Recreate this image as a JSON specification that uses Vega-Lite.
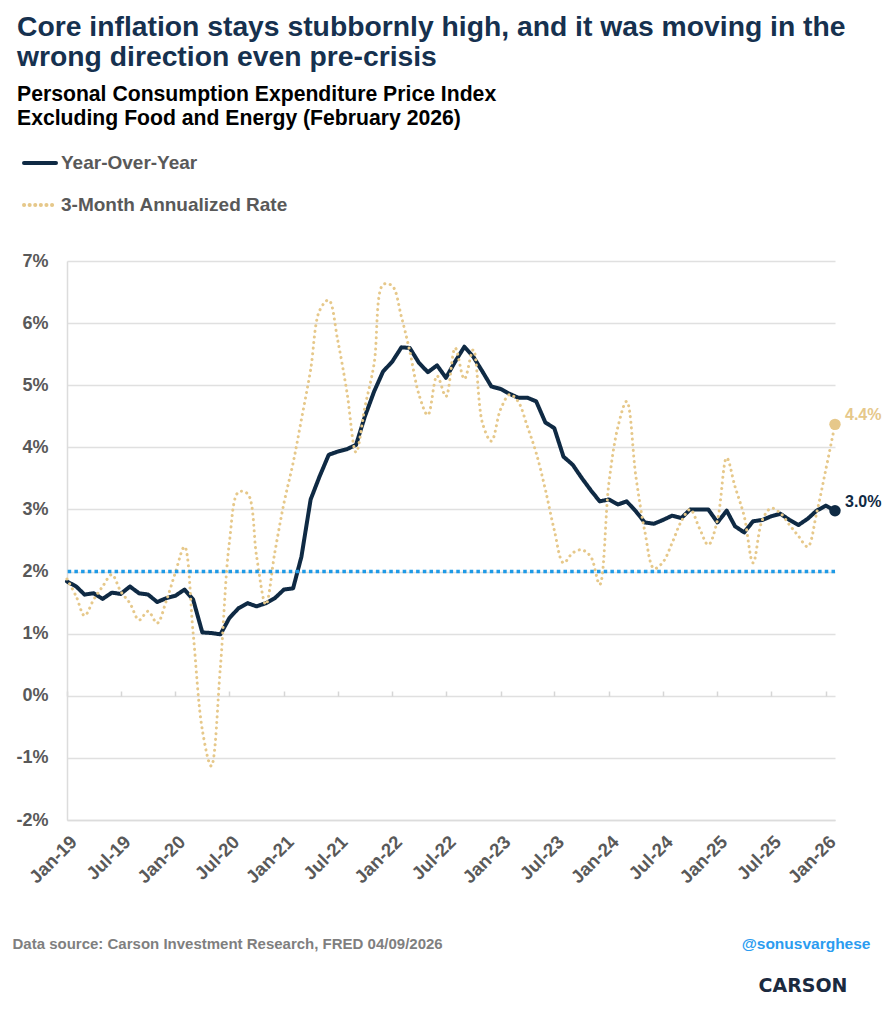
{
  "$schema": "https://vega.github.io/schema/vega-lite/v6.json",
  "width": 768,
  "height": 559,
  "autosize": "none",
  "padding": {"left": 67, "top": 261, "right": 61, "bottom": 204},
  "background": "white",
  "config": {"font": "Liberation Sans", "view": {"stroke": null}},
  "title": {
    "text": ["Core inflation stays stubbornly high, and it was moving in the", "wrong direction even pre-crisis"],
    "subtitle": ["Personal Consumption Expenditure Price Index", "Excluding Food and Energy (February 2026)"],
    "anchor": "start",
    "frame": "group",
    "dx": -50,
    "offset": 15,
    "font": "Liberation Sans",
    "fontSize": 28.3,
    "fontWeight": "bold",
    "color": "#16314f",
    "lineHeight": 30,
    "subtitleFont": "Liberation Sans",
    "subtitleFontSize": 21.2,
    "subtitleFontWeight": "bold",
    "subtitleColor": "#000000",
    "subtitleLineHeight": 24,
    "subtitlePadding": 12
  },
  "data": {
    "values": [
      {"date": "2019-01", "yoy": 1.84, "ann3m": 1.88},
      {"date": "2019-02", "yoy": 1.76, "ann3m": 1.60},
      {"date": "2019-03", "yoy": 1.63, "ann3m": 1.29},
      {"date": "2019-04", "yoy": 1.65, "ann3m": 1.55},
      {"date": "2019-05", "yoy": 1.56, "ann3m": 1.76},
      {"date": "2019-06", "yoy": 1.66, "ann3m": 1.95},
      {"date": "2019-07", "yoy": 1.64, "ann3m": 1.68},
      {"date": "2019-08", "yoy": 1.76, "ann3m": 1.49},
      {"date": "2019-09", "yoy": 1.65, "ann3m": 1.22},
      {"date": "2019-10", "yoy": 1.63, "ann3m": 1.36},
      {"date": "2019-11", "yoy": 1.51, "ann3m": 1.17},
      {"date": "2019-12", "yoy": 1.57, "ann3m": 1.52},
      {"date": "2020-01", "yoy": 1.61, "ann3m": 1.98},
      {"date": "2020-02", "yoy": 1.71, "ann3m": 2.40},
      {"date": "2020-03", "yoy": 1.55, "ann3m": 1.01},
      {"date": "2020-04", "yoy": 1.02, "ann3m": -0.55},
      {"date": "2020-05", "yoy": 1.01, "ann3m": -1.13},
      {"date": "2020-06", "yoy": 0.99, "ann3m": 0.47},
      {"date": "2020-07", "yoy": 1.25, "ann3m": 2.46},
      {"date": "2020-08", "yoy": 1.41, "ann3m": 3.28},
      {"date": "2020-09", "yoy": 1.49, "ann3m": 3.25},
      {"date": "2020-10", "yoy": 1.44, "ann3m": 2.24},
      {"date": "2020-11", "yoy": 1.49, "ann3m": 1.47},
      {"date": "2020-12", "yoy": 1.57, "ann3m": 2.30},
      {"date": "2021-01", "yoy": 1.71, "ann3m": 3.10},
      {"date": "2021-02", "yoy": 1.73, "ann3m": 3.75},
      {"date": "2021-03", "yoy": 2.24, "ann3m": 4.45},
      {"date": "2021-04", "yoy": 3.16, "ann3m": 5.25},
      {"date": "2021-05", "yoy": 3.53, "ann3m": 6.20},
      {"date": "2021-06", "yoy": 3.88, "ann3m": 6.37},
      {"date": "2021-07", "yoy": 3.93, "ann3m": 5.73},
      {"date": "2021-08", "yoy": 3.97, "ann3m": 4.90},
      {"date": "2021-09", "yoy": 4.04, "ann3m": 3.92},
      {"date": "2021-10", "yoy": 4.50, "ann3m": 4.65},
      {"date": "2021-11", "yoy": 4.90, "ann3m": 5.35},
      {"date": "2021-12", "yoy": 5.22, "ann3m": 6.62},
      {"date": "2022-01", "yoy": 5.38, "ann3m": 6.60},
      {"date": "2022-02", "yoy": 5.61, "ann3m": 6.10},
      {"date": "2022-03", "yoy": 5.60, "ann3m": 5.55},
      {"date": "2022-04", "yoy": 5.36, "ann3m": 4.85},
      {"date": "2022-05", "yoy": 5.21, "ann3m": 4.52},
      {"date": "2022-06", "yoy": 5.32, "ann3m": 5.15},
      {"date": "2022-07", "yoy": 5.12, "ann3m": 4.82},
      {"date": "2022-08", "yoy": 5.38, "ann3m": 5.60},
      {"date": "2022-09", "yoy": 5.62, "ann3m": 5.10},
      {"date": "2022-10", "yoy": 5.46, "ann3m": 5.57},
      {"date": "2022-11", "yoy": 5.22, "ann3m": 4.39},
      {"date": "2022-12", "yoy": 4.98, "ann3m": 4.10},
      {"date": "2023-01", "yoy": 4.94, "ann3m": 4.61},
      {"date": "2023-02", "yoy": 4.86, "ann3m": 4.85},
      {"date": "2023-03", "yoy": 4.80, "ann3m": 4.74},
      {"date": "2023-04", "yoy": 4.80, "ann3m": 4.34},
      {"date": "2023-05", "yoy": 4.74, "ann3m": 3.91},
      {"date": "2023-06", "yoy": 4.40, "ann3m": 3.32},
      {"date": "2023-07", "yoy": 4.31, "ann3m": 2.67},
      {"date": "2023-08", "yoy": 3.85, "ann3m": 2.14},
      {"date": "2023-09", "yoy": 3.72, "ann3m": 2.30},
      {"date": "2023-10", "yoy": 3.51, "ann3m": 2.35},
      {"date": "2023-11", "yoy": 3.31, "ann3m": 2.24},
      {"date": "2023-12", "yoy": 3.13, "ann3m": 1.79},
      {"date": "2024-01", "yoy": 3.16, "ann3m": 3.42},
      {"date": "2024-02", "yoy": 3.08, "ann3m": 4.34},
      {"date": "2024-03", "yoy": 3.13, "ann3m": 4.74},
      {"date": "2024-04", "yoy": 2.97, "ann3m": 3.53},
      {"date": "2024-05", "yoy": 2.79, "ann3m": 2.65},
      {"date": "2024-06", "yoy": 2.77, "ann3m": 2.05},
      {"date": "2024-07", "yoy": 2.83, "ann3m": 2.15},
      {"date": "2024-08", "yoy": 2.90, "ann3m": 2.46},
      {"date": "2024-09", "yoy": 2.86, "ann3m": 2.81},
      {"date": "2024-10", "yoy": 3.00, "ann3m": 3.00},
      {"date": "2024-11", "yoy": 3.00, "ann3m": 2.70},
      {"date": "2024-12", "yoy": 3.00, "ann3m": 2.43},
      {"date": "2025-01", "yoy": 2.79, "ann3m": 2.83},
      {"date": "2025-02", "yoy": 2.98, "ann3m": 3.83},
      {"date": "2025-03", "yoy": 2.73, "ann3m": 3.37},
      {"date": "2025-04", "yoy": 2.63, "ann3m": 2.89},
      {"date": "2025-05", "yoy": 2.81, "ann3m": 2.14},
      {"date": "2025-06", "yoy": 2.83, "ann3m": 2.83},
      {"date": "2025-07", "yoy": 2.89, "ann3m": 3.02},
      {"date": "2025-08", "yoy": 2.93, "ann3m": 2.94},
      {"date": "2025-09", "yoy": 2.83, "ann3m": 2.75},
      {"date": "2025-10", "yoy": 2.75, "ann3m": 2.57},
      {"date": "2025-11", "yoy": 2.85, "ann3m": 2.40},
      {"date": "2025-12", "yoy": 2.98, "ann3m": 2.94},
      {"date": "2026-01", "yoy": 3.06, "ann3m": 3.64},
      {"date": "2026-02", "yoy": 2.98, "ann3m": 4.37}
    ]
  },
  "transform": [{"fold": ["yoy", "ann3m"], "as": ["series", "rate"]}],
  "layer": [
    {
      "transform": [{"filter": "datum.series == 'yoy'"}],
      "mark": {"type": "line", "strokeWidth": 4, "strokeJoin": "round", "strokeCap": "round"},
      "encoding": {
        "x": {
          "field": "date", "timeUnit": "utcyearmonth", "type": "temporal",
          "scale": {"domain": [{"year": 2019, "month": 1, "date": 1, "utc": true}, {"year": 2026, "month": 2, "date": 1, "utc": true}], "nice": false},
          "axis": {
            "orient": "bottom",
            "format": "%b-%y",
            "tickCount": {"interval": "month", "step": 6},
            "labelAngle": -45,
            "labelAlign": "right",
            "labelBaseline": "top",
            "labelFontSize": 18.5,
            "labelFontWeight": "bold",
            "labelColor": "#595959",
            "labelPadding": 12,
            "labelFlush": false,
            "labelOverlap": false,
            "labelBound": false,
            "ticks": false,
            "grid": false,
            "domain": true,
            "domainColor": "#dcdcdc",
            "domainWidth": 1.5,
            "title": "Data source: Carson Investment Research, FRED  04/09/2026",
            "titleX": -55,
            "titleY": 123,
            "titleAlign": "left",
            "titleBaseline": "middle",
            "titleFontSize": 15,
            "titleFontWeight": "bold",
            "titleColor": "#7f7f7f"
          }
        },
        "y": {
          "field": "rate", "type": "quantitative",
          "scale": {"domain": [-2, 7], "nice": false, "zero": false},
          "axis": {
            "values": [-2, -1, 0, 1, 2, 3, 4, 5, 6, 7],
            "labelExpr": "datum.value + '%'",
            "labelFontSize": 18,
            "labelFontWeight": "bold",
            "labelColor": "#595959",
            "labelPadding": 19,
            "ticks": false,
            "domain": true,
            "domainColor": "#dcdcdc",
            "domainWidth": 1.5,
            "grid": true,
            "gridColor": "#e0e0e0",
            "gridWidth": 1.5,
            "title": "CARSON",
            "titleAngle": 0,
            "titleX": 691,
            "titleY": 724,
            "titleAlign": "left",
            "titleBaseline": "middle",
            "titleFont": "DejaVu Sans",
            "titleFontSize": 19,
            "titleFontWeight": "bold",
            "titleColor": "#1b2a3f"
          }
        },
        "color": {
          "field": "series", "type": "nominal",
          "scale": {"domain": ["yoy", "ann3m"], "range": ["#0f2a44", "#e6c88a"]},
          "legend": {
            "orient": "none",
            "legendX": -45,
            "legendY": -116,
            "direction": "vertical",
            "title": null,
            "symbolType": "stroke",
            "symbolSize": 1024,
            "symbolStrokeWidth": 4,
            "labelFontSize": 19,
            "labelFontWeight": "bold",
            "labelColor": "#595959",
            "labelOffset": 3,
            "labelLimit": 400,
            "rowPadding": 14,
            "labelExpr": "datum.label == 'yoy' ? 'Year-Over-Year' : '3-Month Annualized Rate'",
            "encode": {"symbols": {"update": {"strokeCap": {"value": "round"}}}}
          }
        },
        "strokeDash": {
          "field": "series", "type": "nominal",
          "scale": {"domain": ["yoy", "ann3m"], "range": [[1, 0], [0.1, 5.5]]},
          "legend": {
            "orient": "none",
            "legendX": -45,
            "legendY": -116,
            "direction": "vertical",
            "title": null,
            "symbolType": "stroke",
            "symbolSize": 1024,
            "symbolStrokeWidth": 4,
            "labelFontSize": 19,
            "labelFontWeight": "bold",
            "labelColor": "#595959",
            "labelOffset": 3,
            "labelLimit": 400,
            "rowPadding": 14,
            "labelExpr": "datum.label == 'yoy' ? 'Year-Over-Year' : '3-Month Annualized Rate'",
            "encode": {"symbols": {"update": {"strokeCap": {"value": "round"}}}}
          }
        }
      }
    },
    {
      "transform": [{"filter": "datum.series == 'ann3m'"}],
      "mark": {"type": "line", "strokeWidth": 3, "strokeCap": "round", "interpolate": "catmull-rom"},
      "encoding": {
        "x": {
          "field": "date", "timeUnit": "utcyearmonth", "type": "temporal",
          "scale": {"domain": [{"year": 2019, "month": 1, "date": 1, "utc": true}, {"year": 2026, "month": 2, "date": 1, "utc": true}], "nice": false},
          "axis": null
        },
        "y": {"field": "rate", "type": "quantitative", "scale": {"domain": [-2, 7], "nice": false, "zero": false}},
        "color": {"field": "series", "type": "nominal"},
        "strokeDash": {"field": "series", "type": "nominal"}
      }
    },
    {
      "data": {"values": [{"target": 2}]},
      "mark": {"type": "rule", "color": "#1e9ae6", "strokeWidth": 3.5, "strokeDash": [3.5, 3.2]},
      "encoding": {
        "y": {"field": "target", "type": "quantitative", "scale": {"domain": [-2, 7], "nice": false, "zero": false}}
      }
    },
    {
      "transform": [{"filter": "utcyear(datum.date) == 2026 && utcmonth(datum.date) == 1"}],
      "mark": {"type": "circle", "size": 130, "opacity": 1},
      "encoding": {
        "x": {
          "field": "date", "timeUnit": "utcyearmonth", "type": "temporal",
          "scale": {"domain": [{"year": 2019, "month": 1, "date": 1, "utc": true}, {"year": 2026, "month": 2, "date": 1, "utc": true}], "nice": false},
          "axis": {
            "orient": "bottom",
            "offset": -124,
            "tickCount": {"interval": "month", "step": 6},
            "labels": false,
            "ticks": true,
            "tickSize": -5,
            "tickColor": "#d6d6d6",
            "tickWidth": 1.5,
            "domain": false,
            "grid": false,
            "title": "@sonusvarghese",
            "titleX": 803,
            "titleY": 247,
            "titleAlign": "right",
            "titleBaseline": "middle",
            "titleFontSize": 15.5,
            "titleFontWeight": "bold",
            "titleColor": "#2b9cf0"
          }
        },
        "y": {"field": "rate", "type": "quantitative", "scale": {"domain": [-2, 7], "nice": false, "zero": false}},
        "color": {"field": "series", "type": "nominal", "legend": null}
      }
    },
    {
      "transform": [
        {"filter": "utcyear(datum.date) == 2026 && utcmonth(datum.date) == 1"},
        {"calculate": "format(datum.rate, '.1f') + '%'", "as": "label"}
      ],
      "mark": {"type": "text", "align": "left", "baseline": "middle", "dx": 10, "dy": -9, "fontSize": 16, "fontWeight": "bold"},
      "encoding": {
        "x": {
          "field": "date", "timeUnit": "utcyearmonth", "type": "temporal",
          "scale": {"domain": [{"year": 2019, "month": 1, "date": 1, "utc": true}, {"year": 2026, "month": 2, "date": 1, "utc": true}], "nice": false},
          "axis": null
        },
        "y": {"field": "rate", "type": "quantitative", "scale": {"domain": [-2, 7], "nice": false, "zero": false}},
        "text": {"field": "label"},
        "color": {"field": "series", "type": "nominal", "legend": null}
      }
    }
  ],
  "resolve": {"axis": {"x": "independent"}}
}
